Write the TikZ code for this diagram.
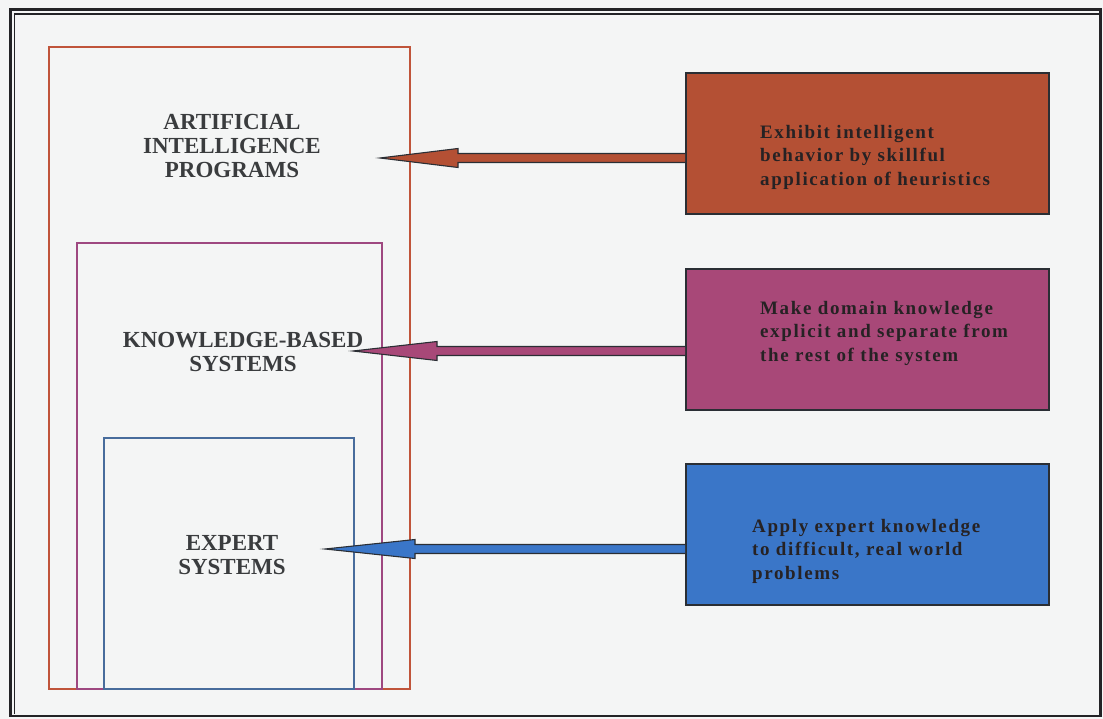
\documentclass[tikz,border=0pt]{standalone}
\usepackage{fontspec}
\setmainfont{Liberation Serif}
\newfontfamily\descfont[LetterSpace=8.5]{Liberation Serif}
\usetikzlibrary{calc}

\definecolor{pagebg}{RGB}{244,245,245}
\definecolor{framedark}{RGB}{35,35,38}
\definecolor{redline}{RGB}{192,84,58}
\definecolor{purpleline}{RGB}{158,72,128}
\definecolor{blueline}{RGB}{72,108,156}
\definecolor{brownfill}{RGB}{180,80,52}
\definecolor{pinkfill}{RGB}{168,72,120}
\definecolor{bluefill}{RGB}{58,118,200}
\definecolor{edgedark}{RGB}{42,46,52}
\definecolor{labelgray}{RGB}{58,60,62}
\definecolor{textdark}{RGB}{38,34,36}

% arrow: shaft from the box's west side to a tip, with a long narrow head
\newcommand\drawpointer[4]{%
  \filldraw[arrowbody=#1]
    ($(#2.west |- #3)+(0,-4.5)$) -- ($(#3)+(#4,-4.5)$) -- ($(#3)+(#4,-9.5)$)
    -- (#3) -- ($(#3)+(#4,9.5)$) -- ($(#3)+(#4,4.5)$) -- ($(#2.west |- #3)+(0,4.5)$);}

\begin{document}
\begin{tikzpicture}[x=1pt,y=-1pt,
  nest/.style={draw=#1, line width=1.7pt, inner sep=0, anchor=north west},
  label/.style={font=\fontsize{23}{24}\selectfont\bfseries, text=labelgray,
    align=center, inner sep=0},
  descbox/.style={draw=edgedark, line width=1.6pt, fill=#1, inner sep=0,
    minimum width=363pt, minimum height=141pt, anchor=north west},
  desc/.style={font=\descfont\fontsize{19}{23.5}\selectfont\bfseries,
    text=textdark, align=left, anchor=west, inner sep=0},
  arrowbody/.style={fill=#1, draw=edgedark, line width=1.1pt, line join=miter}]

% page and double frame
\fill[pagebg] (0,0) rectangle (1103,719);
\useasboundingbox (0,0) rectangle (1103,719);
\draw[framedark, line width=2.6pt] (10.5,9.5) rectangle (1100.5,716);
\draw[framedark, line width=1.2pt] (14.8,714) -- (14.8,14) -- (1099,14);

% nested program classes
\node[nest=redline, minimum width=361pt, minimum height=642pt] (ai) at (48,46) {};
\node[nest=purpleline, minimum width=305pt, minimum height=446pt] (kb) at (76,242) {};
\node[nest=blueline, minimum width=250pt, minimum height=251pt] (es) at (103,437) {};

\node[label] (ailabel) at (232,146) {ARTIFICIAL\\INTELLIGENCE\\PROGRAMS};
\node[label] (kblabel) at (243,352) {KNOWLEDGE-BASED\\SYSTEMS};
\node[label] (eslabel) at (232,555) {EXPERT\\SYSTEMS};

% descriptions
\node[descbox=brownfill] (b1) at (685,72) {};
\node[descbox=pinkfill] (b2) at (685,268) {};
\node[descbox=bluefill] (b3) at (685,463) {};

\node[desc] (d1) at (760,157) {Exhibit intelligent\\behavior by skillful\\application of heuristics};
\node[desc] (d2) at (760,333) {Make domain knowledge\\explicit and separate from\\the rest of the system};
\node[desc] (d3) at (752,551) {Apply expert knowledge\\to difficult, real world\\problems};

% pointers into the nested boxes
\coordinate (t1) at (380,158);
\coordinate (t2) at (353,351);
\coordinate (t3) at (325,549);
\drawpointer{brownfill}{b1}{t1}{78}
\drawpointer{pinkfill}{b2}{t2}{84}
\drawpointer{bluefill}{b3}{t3}{90}
\end{tikzpicture}
\end{document}
